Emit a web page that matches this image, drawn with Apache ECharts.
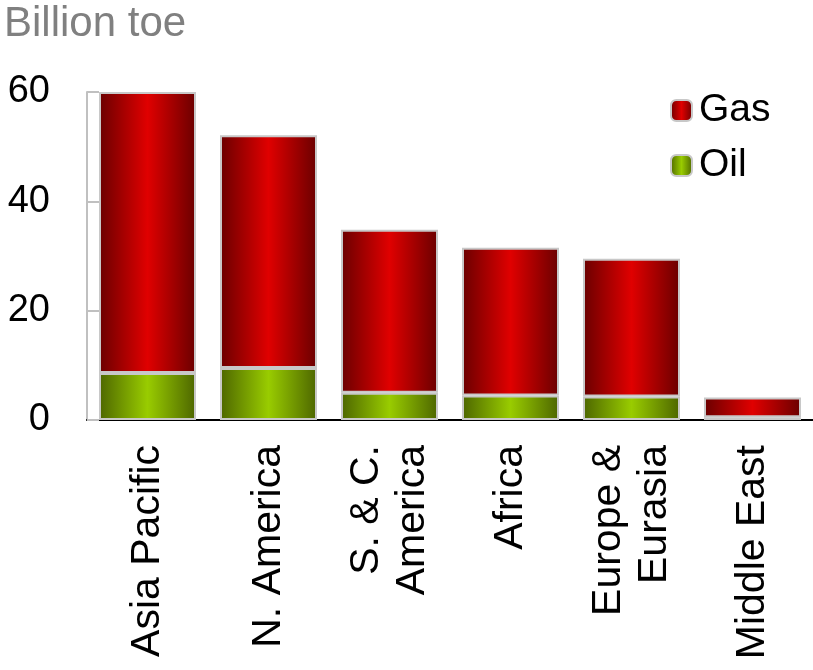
<!DOCTYPE html>
<html>
<head>
<meta charset="utf-8">
<script src="https://cdn.jsdelivr.net/npm/echarts@6/dist/echarts.min.js"></script>
<style>
  html, body { margin: 0; padding: 0; background: #fff; }
  #chart { width: 813px; height: 670px; }
</style>
</head>
<body>
<div id="chart"></div>
<script>
// regions and values (billion toe)
var regions = ["Asia Pacific", "N. America", "S. & C.\nAmerica", "Africa", "Europe &\nEurasia", "Middle East"];
var oilValues = [8.6, 9.5, 5.0, 4.5, 4.3, 0.5];
var gasValues = [51.4, 42.6, 29.8, 27.0, 25.2, 3.6];
var yTicks = [0, 20, 40, 60];

var chart = echarts.init(document.getElementById("chart"));

function barGradient(edge, mid) {
  return new echarts.graphic.LinearGradient(0, 0, 1, 0, [
    { offset: 0, color: edge },
    { offset: 0.5, color: mid },
    { offset: 1, color: edge }
  ]);
}

var font = "Liberation Sans, Arial, sans-serif";

var option = {
  animation: false,
  textStyle: { fontFamily: font },
  graphic: [{
    type: "text",
    left: 4,
    top: 3,
    style: { text: "Billion toe", fill: "#808080", font: "42px " + font }
  }],
  legend: {
    data: ["Gas", "Oil"],
    orient: "vertical",
    left: 665,
    top: 86,
    itemWidth: 21,
    itemHeight: 21,
    itemGap: 16,
    textStyle: { fontSize: 39, color: "#000", fontFamily: font, padding: [0, 0, 0, 2] }
  },
  grid: { left: 87, top: 92, width: 728, height: 328, containLabel: false },
  xAxis: {
    type: "category",
    data: regions,
    axisLine: { lineStyle: { color: "#000", width: 2 } },
    axisTick: { show: false },
    axisLabel: {
      rotate: 90,
      interval: 0,
      fontSize: 41,
      lineHeight: 46,
      color: "#000",
      margin: 25,
      align: "right",
      verticalAlign: "middle"
    }
  },
  yAxis: {
    type: "value",
    min: 0,
    max: 60,
    interval: 20,
    axisLine: { show: true, lineStyle: { color: "#c0c0c0", width: 2 } },
    axisTick: { show: true, inside: true, length: 12, lineStyle: { color: "#c0c0c0", width: 2 } },
    splitLine: { show: false },
    axisLabel: {
      fontSize: 38,
      color: "#000",
      margin: 37,
      formatter: function (v) { return yTicks.indexOf(v) >= 0 ? String(v) : ""; }
    }
  },
  series: [
    {
      name: "Oil",
      type: "bar",
      stack: "total",
      barWidth: 97,
      data: oilValues,
      itemStyle: {
        color: barGradient("#4d6600", "#99cc00"),
        borderColor: "#c8c8c8",
        borderWidth: 2
      }
    },
    {
      name: "Gas",
      type: "bar",
      stack: "total",
      barWidth: 97,
      data: gasValues,
      itemStyle: {
        color: barGradient("#6a0000", "#e00000"),
        borderColor: "#c8c8c8",
        borderWidth: 2
      }
    }
  ]
};

chart.setOption(option);
</script>
</body>
</html>
